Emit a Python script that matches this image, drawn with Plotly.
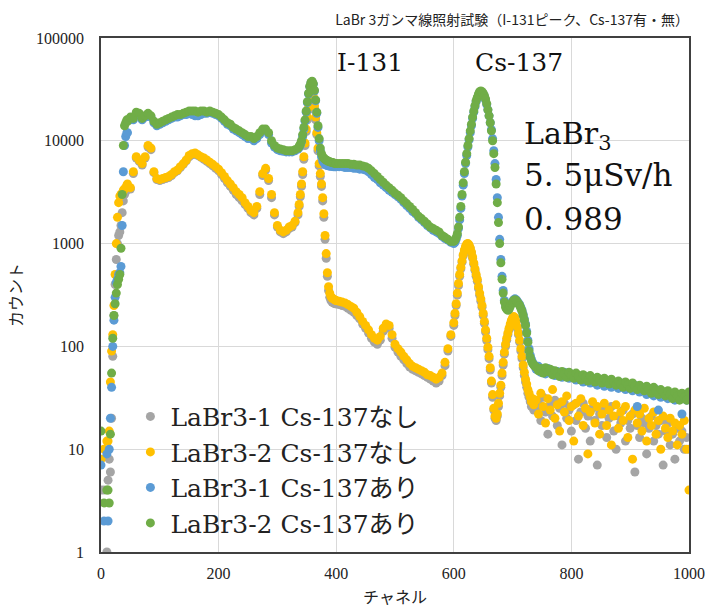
import plotly.graph_objects as go

# Channel numbers at which values were read (denser where the curves are steep)
channels = ([0, 5] + list(range(10, 46, 2)) + list(range(45, 331, 5))
            + list(range(335, 400, 2)) + list(range(400, 596, 5))
            + list(range(600, 739, 2)) + list(range(740, 1001, 4)))

# LaBr3-1 Cs-137なし (gray)
labr1_nashi = [
    4, 4,
    1, 5, 8, 6, 20, 80, 200, 400, 700, 1000, 1200, 1300, 1500, 2000, 2600, 3000, 3200, 3400,
    3500,
    3400, 4800, 6800, 6300, 5800, 6800, 8700, 8200, 4900, 4200,
    4100, 4200, 4300, 4400, 4600, 4900, 5100, 5500, 5900, 6400,
    7000, 7300, 7400, 7200, 6900, 6600, 6300, 6000, 5700, 5400,
    5100, 4700, 4300, 3900, 3600, 3300, 3000, 2800, 2600, 2400,
    2200, 2000, 1900, 2200, 3000, 4600, 5200, 4100, 2800, 1900,
    1450, 1300, 1250, 1300, 1400, 1450, 1600,
    1900, 2300, 2850, 3600, 4700, 6600, 9000, 12300, 16000, 20000, 24000, 27000, 28000,
    26000, 21000, 16000, 11500, 8000, 5700, 4500, 3600, 2600, 1800, 1100, 720, 480, 350,
    300, 280, 270, 265, 262, 260,
    260, 255, 250, 245, 235, 225, 215, 200, 185, 165,
    150, 135, 120, 110, 105, 115, 140, 155, 150, 120,
    98, 88, 80, 74, 68, 63, 60, 58, 56, 54,
    52, 50, 48, 46, 44, 46, 52, 65, 90, 125,
    160, 200, 250, 315, 390, 480, 570, 660, 760, 850,
    920, 970, 980, 950, 890, 810, 720, 630, 550, 480,
    430, 365, 315, 275, 240, 200, 168, 138, 114, 93,
    76, 59, 44, 32, 24, 20, 19, 21, 26, 33,
    40, 52, 66, 84, 100, 115, 130, 145, 160, 175,
    185, 190, 185, 170, 150, 130, 110, 90, 76, 62,
    52, 45, 40, 35, 32, 29, 26, 28, 24, 27,
    24, 28, 19, 32, 23, 14, 27, 21, 30, 17,
    25, 11, 28, 20, 24, 15, 27, 19, 8, 23,
    28, 16, 21, 12, 25, 19, 7, 22, 17, 24,
    13, 20, 26, 15, 10, 21, 18, 24, 12, 19,
    16, 22, 6, 17, 13, 20, 18, 9, 16, 21,
    12, 17, 14, 19, 7, 15, 18, 11, 14, 8,
    16, 12, 15, 10, 13, 10,
]

# LaBr3-2 Cs-137なし (orange)
labr2_nashi = [
    8, 10,
    12, 12, 15, 45, 90, 130, 250, 500, 1000, 1800, 2500, 2900, 3000, 3100, 3300, 3400, 3500, 3700,
    3800,
    3500, 5000, 7000, 6500, 6000, 7000, 9000, 8500, 5000, 4300,
    4200, 4300, 4400, 4500, 4700, 5000, 5200, 5600, 6000, 6500,
    7200, 7500, 7600, 7300, 7000, 6800, 6500, 6200, 5900, 5600,
    5300, 4900, 4500, 4100, 3800, 3500, 3200, 3000, 2800, 2500,
    2300, 2100, 2000, 2300, 3200, 4800, 5400, 4300, 3000, 2000,
    1500, 1350, 1300, 1350, 1450, 1500, 1650,
    2000, 2400, 3000, 3800, 5000, 7000, 9500, 13000, 17000, 21000, 25000, 28000, 29000,
    27000, 22000, 17000, 12000, 8500, 6000, 4800, 3800, 2800, 1950, 1200, 800, 520, 380,
    330, 305, 295, 290, 285, 280,
    280, 275, 270, 265, 255, 245, 235, 215, 195, 175,
    160, 145, 130, 120, 115, 125, 150, 165, 160, 130,
    105, 95, 88, 80, 74, 68, 64, 62, 60, 58,
    56, 53, 52, 50, 48, 50, 55, 70, 95, 130,
    170, 210, 260, 330, 410, 500, 590, 680, 780, 870,
    940, 990, 1000, 970, 910, 830, 740, 650, 570, 500,
    450, 380, 330, 290, 250, 210, 175, 145, 120, 98,
    80, 62, 46, 34, 25, 21, 20, 22, 28, 35,
    42, 55, 70, 88, 105, 120, 135, 150, 165, 180,
    190, 195, 190, 175, 155, 135, 115, 95, 80, 66,
    56, 48, 43, 38, 35, 32, 29, 31, 27, 30,
    30, 22, 35, 26, 18, 31, 24, 38, 20, 27,
    15, 29, 23, 33, 19, 26, 12, 28, 21, 31,
    17, 25, 9, 23, 29, 18, 26, 14, 22, 28,
    17, 24, 11, 21, 27, 16, 23, 19, 26, 13,
    21, 8, 24, 18, 22, 15, 25, 12, 20, 17,
    23, 14, 19, 10, 21, 16, 13, 20, 15, 18,
    11, 17, 14, 19, 10, 4,
]

# LaBr3-1 Cs-137あり (blue)
labr1_ari = [
    7, 2,
    9, 2, 10, 20, 40, 100, 180, 300, 420, 450, 500, 520, 600, 1500, 5000, 9000, 11000, 12000,
    12000,
    16000, 16000, 18000, 18000, 16000, 17000, 18000, 17000, 15000, 14000,
    14500, 15000, 15500, 16000, 16500, 17000, 17000, 17500, 18000, 18000,
    18500, 18000, 17500, 17500, 18000, 18500, 18500, 19000, 18500, 18000,
    17500, 16500, 15500, 14500, 14000, 13000, 12500, 12000, 11500, 11000,
    10500, 10500, 10000, 10500, 11500, 12500, 12500, 11500, 9500, 8700,
    8200, 8000, 7900, 7800, 7800, 7800, 8000,
    8300, 8600, 9100, 9800, 11000, 13000, 15500, 19000, 23500, 28500, 33500, 36500, 37500,
    35500, 30500, 24500, 18500, 13500, 10000, 8000, 7000, 6400, 6100, 5900, 5800, 5750,
    5700, 5700, 5650, 5650, 5600, 5600, 5600,
    5600, 5600, 5600, 5500, 5500, 5500, 5400, 5400, 5300, 5300,
    5200, 5000, 4700, 4400, 4200, 3900, 3700, 3500, 3300, 3150,
    3000, 2850, 2700, 2500, 2350, 2200, 2050, 1950, 1800, 1700,
    1600, 1500, 1420, 1350, 1300, 1250, 1180, 1120, 1080, 1030,
    1000, 1030, 1100, 1200, 1400, 1700, 2200, 2900, 3700, 4800,
    6000, 7200, 8700, 10200, 12000, 14000, 16500, 19000, 21500, 24000,
    26000, 28000, 29500, 30000, 29500, 28500, 27000, 25000, 22500, 20000,
    17500, 15000, 12800, 10500, 8000, 6000, 4200, 2800, 1800, 1100,
    700, 480, 350, 280, 250, 235, 230, 235, 250, 265,
    275, 285, 290, 285, 275, 265, 255, 240, 225, 205,
    185, 165, 140, 115, 95, 82, 75, 70, 67, 65,
    60, 64, 56, 60, 54, 61, 55, 58, 52, 57,
    54, 50, 56, 52, 49, 54, 50, 47, 52, 49,
    45, 51, 47, 44, 49, 46, 42, 48, 45, 41,
    46, 43, 40, 45, 42, 39, 44, 41, 38, 42,
    40, 37, 42, 26, 36, 40, 37, 34, 39, 36,
    33, 38, 24, 32, 36, 34, 31, 35, 32, 30,
    34, 31, 22, 33, 30, 33,
]

# LaBr3-2 Cs-137あり (green)
labr2_ari = [
    15, 3,
    4, 4, 3, 14, 55, 120, 200, 260, 330, 400, 450, 500, 900, 3000, 9000, 14000, 15000, 16000,
    15500,
    17000, 16500, 19000, 18500, 16500, 17500, 18500, 17500, 15500, 14500,
    15000, 15500, 16000, 16500, 17000, 17500, 18000, 18000, 18500, 19000,
    19500, 19500, 19500, 19000, 19500, 19500, 19000, 19500, 19000, 18500,
    18000, 17000, 16000, 15000, 14500, 13500, 13000, 12500, 12000, 11500,
    11000, 11000, 10500, 11000, 12000, 13000, 13000, 12000, 10000, 9000,
    8500, 8300, 8200, 8000, 8000, 8000, 8200,
    8500, 8800, 9300, 10000, 11500, 13500, 16000, 19500, 24000, 29000, 34000, 37000, 38000,
    36000, 31000, 25000, 19000, 14000, 10500, 8500, 7500, 7000, 6800, 6600, 6500, 6400,
    6300, 6250, 6200, 6150, 6100, 6050, 6000,
    6000, 6000, 6000, 6000, 6000, 5900, 5900, 5800, 5800, 5700,
    5600, 5400, 5100, 4800, 4500, 4200, 3950, 3700, 3500, 3300,
    3100, 2950, 2800, 2600, 2450, 2300, 2150, 2000, 1850, 1750,
    1650, 1550, 1450, 1400, 1350, 1300, 1200, 1150, 1100, 1050,
    1050, 1080, 1150, 1250, 1450, 1800, 2300, 3000, 3900, 5000,
    6200, 7500, 9000, 10500, 12500, 14500, 17000, 19500, 22000, 24500,
    26500, 28500, 30000, 30500, 30000, 29000, 27500, 25500, 23000, 20000,
    17500, 15000, 12500, 10000, 7500, 5500, 3800, 2500, 1600, 1000,
    650, 450, 330, 270, 240, 230, 225, 230, 245, 260,
    270, 280, 285, 280, 270, 260, 250, 235, 220, 200,
    180, 160, 135, 110, 90, 78, 72, 68, 66, 64,
    63, 58, 61, 55, 62, 57, 60, 53, 58, 55,
    51, 57, 54, 50, 56, 52, 49, 55, 51, 47,
    53, 50, 46, 52, 48, 45, 50, 47, 44, 49,
    46, 43, 48, 45, 42, 46, 43, 40, 45, 42,
    39, 44, 41, 38, 42, 39, 37, 41, 38, 35,
    40, 37, 34, 38, 36, 33, 37, 34, 31, 36,
    33, 30, 35, 32, 30, 36,
]

series_names = ["LaBr3-1 Cs-137なし", "LaBr3-2 Cs-137なし",
                "LaBr3-1 Cs-137あり", "LaBr3-2 Cs-137あり"]
series_values = [labr1_nashi, labr2_nashi, labr1_ari, labr2_ari]
series_colors = ["#A5A5A5", "#FFC000", "#5B9BD5", "#70AD47"]

for v in series_values:
    assert len(v) == len(channels), (len(v), len(channels))

x_ticks = [0, 200, 400, 600, 800, 1000]
y_ticks = [1, 10, 100, 1000, 10000, 100000]

SERIF = "DejaVu Serif, Noto Sans CJK JP, serif"
CJK = "Noto Sans CJK JP, sans-serif"

fig = go.Figure()
for name, vals, col in zip(series_names, series_values, series_colors):
    fig.add_trace(go.Scatter(
        x=channels, y=vals, mode="markers", name=name,
        marker=dict(size=9, color=col, line=dict(width=0)),
    ))

fig.update_layout(
    width=705, height=608,
    margin=dict(l=101, r=16, t=38, b=56, autoexpand=False),
    paper_bgcolor="white", plot_bgcolor="white",
    title=dict(text="LaBr 3ガンマ線照射試験（I-131ピーク、Cs-137有・無）",
               font=dict(family=CJK, size=14, color="#222"),
               x=1.0, xref="paper", xanchor="right",
               y=1 - 20 / 608, yref="container", yanchor="middle"),
    showlegend=True,
    legend=dict(x=0.05, y=0.308, xanchor="left", yanchor="top",
                bgcolor="rgba(0,0,0,0)", borderwidth=0,
                font=dict(family=SERIF, size=25, color="#222"),
                itemwidth=30, tracegroupgap=0),
    xaxis=dict(range=[0, 1000], tickvals=x_ticks, ticktext=[str(v) for v in x_ticks],
               automargin=False,
               showgrid=True, gridcolor="#D9D9D9", gridwidth=1,
               showline=True, linecolor="#404040", linewidth=1.5, mirror=True,
               ticks="", zeroline=False, ticklabelstandoff=6,
               tickfont=dict(family="Liberation Serif, serif", size=16, color="#222"),
               title=dict(text="チャネル", font=dict(family=CJK, size=16, color="#222"),
                          standoff=12)),
    yaxis=dict(type="log", range=[0, 5], tickvals=y_ticks, ticktext=[str(v) for v in y_ticks],
               automargin=False,
               showgrid=True, gridcolor="#D9D9D9", gridwidth=1,
               showline=True, linecolor="#404040", linewidth=1.5, mirror=True,
               ticks="", zeroline=False, ticklabelstandoff=12,
               tickfont=dict(family="Liberation Serif, serif", size=16, color="#222"),
               title=dict(text="カウント", font=dict(family=CJK, size=16, color="#222"),
                          standoff=9)),
)

annots = [
    ("I-131", 0.398, 0.953, 25),
    ("Cs-137", 0.633, 0.953, 25),
    ("LaBr<sub>3</sub>", 0.716, 0.81, 30),
    ("5. 5μSv/h", 0.716, 0.733, 31),
    ("0. 989", 0.716, 0.648, 31),
]
for txt, ax, ay, fs in annots:
    fig.add_annotation(text=txt, x=ax, y=ay, xref="paper", yref="paper",
                       xanchor="left", yanchor="middle", showarrow=False,
                       font=dict(family=SERIF, size=fs, color="#111"))

fig.write_html("out.html")
